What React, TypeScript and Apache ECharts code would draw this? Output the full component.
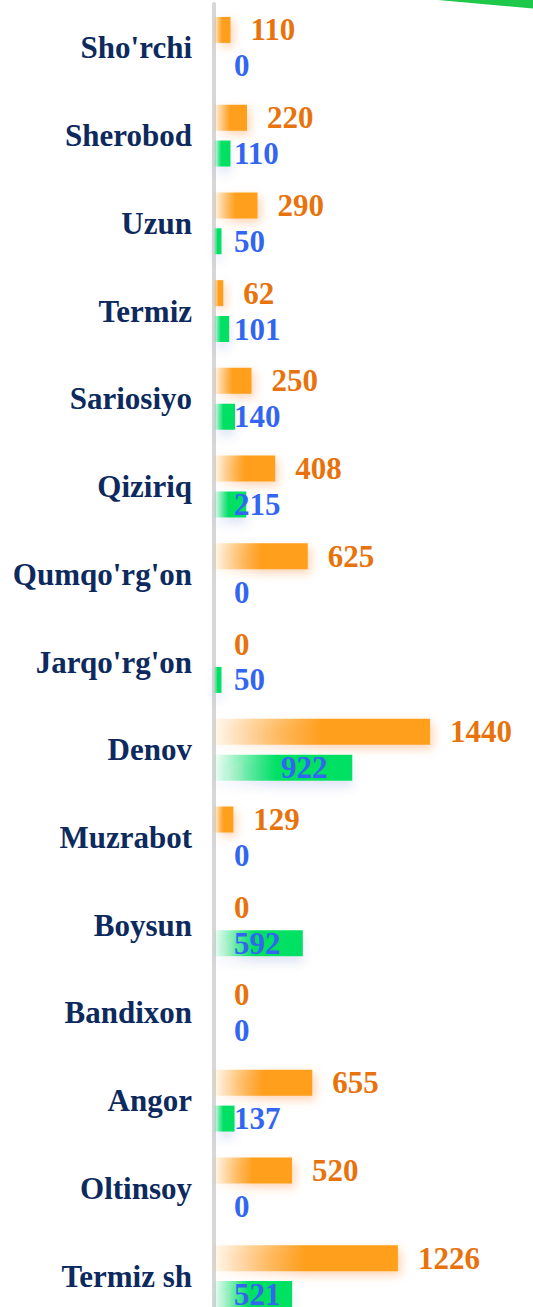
import React, { useEffect, useRef } from "react";
import * as echarts from "echarts";

const categories = [
  "Sho'rchi", "Sherobod", "Uzun", "Termiz", "Sariosiyo", "Qiziriq", "Qumqo'rg'on",
  "Jarqo'rg'on", "Denov", "Muzrabot", "Boysun", "Bandixon", "Angor", "Oltinsoy", "Termiz sh",
];
const orangeValues = [110, 220, 290, 62, 250, 408, 625, 0, 1440, 129, 0, 0, 655, 520, 1226];
const greenValues = [0, 110, 50, 101, 140, 215, 0, 50, 922, 0, 592, 0, 137, 0, 521];

const FONT = "'Liberation Serif', serif";

export default function App() {
  const ref = useRef<HTMLDivElement>(null);
  useEffect(() => {
    document.body.style.margin = "0";
    const chart = echarts.init(ref.current!, null, { renderer: "svg" });
    chart.setOption({
      animation: false,
      grid: { left: 214, top: 4, width: 300, height: 1316 },
      xAxis: { type: "value", min: 0, max: 2000, show: false },
      yAxis: {
        type: "category",
        inverse: true,
        data: categories,
        axisLine: { show: true, lineStyle: { color: "#d7d7d7", width: 4 } },
        axisTick: { show: false },
        axisLabel: {
          margin: 22,
          color: "#0d2a5e",
          fontFamily: FONT,
          fontWeight: "bold",
          fontSize: 31,
        },
      },
      graphic: [
        {
          type: "polygon",
          shape: { points: [[438, 0], [533, 0], [533, 8.5]] },
          style: { fill: "#1ec84a" },
        },
      ],
      series: [
        {
          type: "bar",
          data: orangeValues,
          barWidth: 26,
          barGap: "38%",
          itemStyle: {
            color: new echarts.graphic.LinearGradient(0, 0, 1, 0, [
              { offset: 0, color: "rgba(255,160,30,0.05)" },
              { offset: 0.5, color: "#ff9f1c" },
              { offset: 1, color: "#ff9f1c" },
            ]),
            shadowColor: "rgba(255,130,40,0.35)",
            shadowBlur: 10,
            shadowOffsetX: 3,
            shadowOffsetY: 4,
          },
          label: {
            show: true,
            position: "right",
            distance: 20,
            color: "#e8730c",
            fontFamily: FONT,
            fontWeight: "bold",
            fontSize: 31,
          },
        },
        {
          type: "bar",
          data: greenValues.map((v, i) =>
            categories[i] === "Denov" ? { value: v, label: { offset: [47, 0] } } : v
          ),
          barWidth: 26,
          itemStyle: {
            color: new echarts.graphic.LinearGradient(0, 0, 1, 0, [
              { offset: 0, color: "rgba(0,225,100,0.05)" },
              { offset: 0.45, color: "#00e064" },
              { offset: 1, color: "#00e064" },
            ]),
            shadowColor: "rgba(70,90,200,0.15)",
            shadowBlur: 10,
            shadowOffsetY: 7,
          },
          label: {
            show: true,
            position: "insideLeft",
            distance: 20,
            color: "#3366f0",
            fontFamily: FONT,
            fontWeight: "bold",
            fontSize: 31,
          },
        },
      ],
    });
    return () => chart.dispose();
  }, []);
  return (
    <div style={{ width: 533, height: 1307, overflow: "hidden" }}>
      <div ref={ref} style={{ width: 533, height: 1330 }} />
    </div>
  );
}
